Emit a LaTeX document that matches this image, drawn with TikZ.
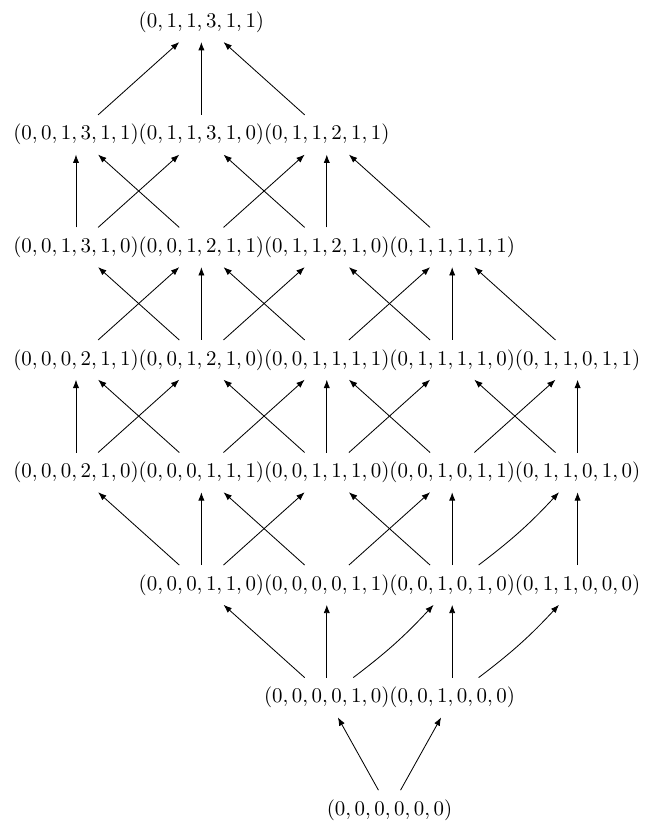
\documentclass[tikz,border=0pt]{standalone}
\usetikzlibrary{arrows.meta}
\begin{document}
\begin{tikzpicture}[x=60pt,y=53.85pt,
  vec/.style={inner xsep=3.33pt,inner ysep=4.3pt},
  cover/.style={-{Latex[length=4pt,width=3pt]},line width=0.4pt}]
\useasboundingbox (0pt,0pt) rectangle (314.35pt,393.78pt);
\begin{scope}[shift={(36.36pt,6.21pt)}]
% row 1
\node[vec] (n011311) at (1,7) {$(0,1,1,3,1,1)$};
% row 2
\node[vec] (n001311) at (0,6) {$(0,0,1,3,1,1)$};
\node[vec] (n011310) at (1,6) {$(0,1,1,3,1,0)$};
\node[vec] (n011211) at (2,6) {$(0,1,1,2,1,1)$};
% row 3
\node[vec] (n001310) at (0,5) {$(0,0,1,3,1,0)$};
\node[vec] (n001211) at (1,5) {$(0,0,1,2,1,1)$};
\node[vec] (n011210) at (2,5) {$(0,1,1,2,1,0)$};
\node[vec] (n011111) at (3,5) {$(0,1,1,1,1,1)$};
% row 4
\node[vec] (n000211) at (0,4) {$(0,0,0,2,1,1)$};
\node[vec] (n001210) at (1,4) {$(0,0,1,2,1,0)$};
\node[vec] (n001111) at (2,4) {$(0,0,1,1,1,1)$};
\node[vec] (n011110) at (3,4) {$(0,1,1,1,1,0)$};
\node[vec] (n011011) at (4,4) {$(0,1,1,0,1,1)$};
% row 5
\node[vec] (n000210) at (0,3) {$(0,0,0,2,1,0)$};
\node[vec] (n000111) at (1,3) {$(0,0,0,1,1,1)$};
\node[vec] (n001110) at (2,3) {$(0,0,1,1,1,0)$};
\node[vec] (n001011) at (3,3) {$(0,0,1,0,1,1)$};
\node[vec] (n011010) at (4,3) {$(0,1,1,0,1,0)$};
% row 6
\node[vec] (n000110) at (1,2) {$(0,0,0,1,1,0)$};
\node[vec] (n000011) at (2,2) {$(0,0,0,0,1,1)$};
\node[vec] (n001010) at (3,2) {$(0,0,1,0,1,0)$};
\node[vec] (n011000) at (4,2) {$(0,1,1,0,0,0)$};
% row 7
\node[vec] (n000010) at (2,1) {$(0,0,0,0,1,0)$};
\node[vec] (n001000) at (3,1) {$(0,0,1,0,0,0)$};
% row 8
\node[vec] (n000000) at (2.5,0) {$(0,0,0,0,0,0)$};
% edges
\draw[cover] (n000000) -- (n000010);
\draw[cover] (n000000) -- (n001000);
\draw[cover] (n000010) -- (n000110);
\draw[cover] (n000010) -- (n000011);
\draw[cover] (n000010) to[bend right=5] (n001010);
\draw[cover] (n001000) -- (n001010);
\draw[cover] (n001000) to[bend right=5] (n011000);
\draw[cover] (n000110) -- (n000210);
\draw[cover] (n000110) -- (n000111);
\draw[cover] (n000110) -- (n001110);
\draw[cover] (n000011) -- (n000111);
\draw[cover] (n000011) -- (n001011);
\draw[cover] (n001010) -- (n001110);
\draw[cover] (n001010) -- (n001011);
\draw[cover] (n001010) to[bend right=5] (n011010);
\draw[cover] (n011000) -- (n011010);
\draw[cover] (n000210) -- (n000211);
\draw[cover] (n000210) -- (n001210);
\draw[cover] (n000111) -- (n000211);
\draw[cover] (n000111) -- (n001111);
\draw[cover] (n001110) -- (n001210);
\draw[cover] (n001110) -- (n001111);
\draw[cover] (n001110) -- (n011110);
\draw[cover] (n001011) -- (n001111);
\draw[cover] (n001011) -- (n011011);
\draw[cover] (n011010) -- (n011110);
\draw[cover] (n011010) -- (n011011);
\draw[cover] (n000211) -- (n001211);
\draw[cover] (n001210) -- (n001310);
\draw[cover] (n001210) -- (n001211);
\draw[cover] (n001210) -- (n011210);
\draw[cover] (n001111) -- (n001211);
\draw[cover] (n001111) -- (n011111);
\draw[cover] (n011110) -- (n011210);
\draw[cover] (n011110) -- (n011111);
\draw[cover] (n011011) -- (n011111);
\draw[cover] (n001310) -- (n001311);
\draw[cover] (n001310) -- (n011310);
\draw[cover] (n001211) -- (n001311);
\draw[cover] (n001211) -- (n011211);
\draw[cover] (n011210) -- (n011310);
\draw[cover] (n011210) -- (n011211);
\draw[cover] (n011111) -- (n011211);
\draw[cover] (n001311) -- (n011311);
\draw[cover] (n011310) -- (n011311);
\draw[cover] (n011211) -- (n011311);
\end{scope}
\end{tikzpicture}
\end{document}
